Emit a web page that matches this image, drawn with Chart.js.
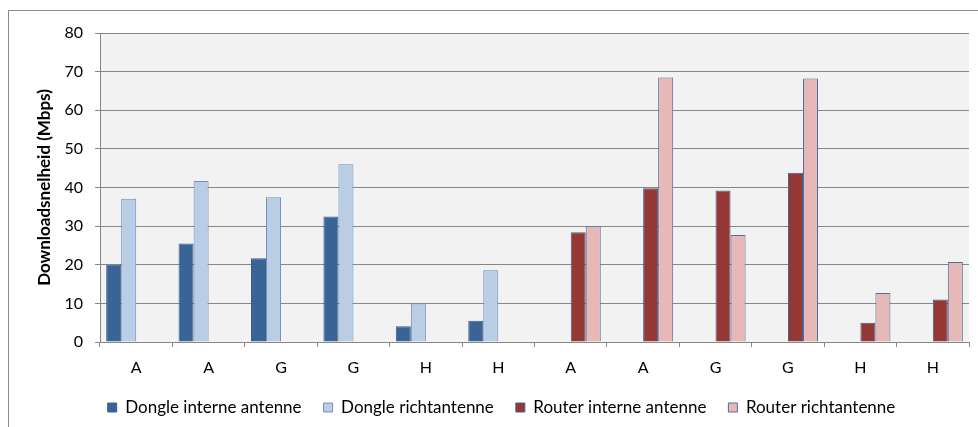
<!DOCTYPE html>
<html>
<head>
    <title>Downloadsnelheid</title>
    <script src="https://cdn.jsdelivr.net/npm/chart.js"></script>
    <style>
        html, body { margin: 0; padding: 0; background: #fff; overflow: hidden; }
        #wrap { width: 978px; height: 427px; }
    </style>
</head>
<body>
    <div id="wrap"><canvas id="speedChart" width="978" height="427"></canvas></div>
    <script>
    // categories (locations) along the x axis
    var labels = ['A', 'A', 'G', 'G', 'H', 'H', 'A', 'A', 'G', 'G', 'H', 'H'];

    // download speeds in Mbps
    var dongleIntern = [20.0, 25.5, 21.7, 32.5, 4.1, 5.5, null, null, null, null, null, null];
    var dongleRicht  = [37.1, 41.7, 37.5, 46.0, 10.0, 18.6, null, null, null, null, null, null];
    var routerIntern = [null, null, null, null, null, null, 28.4, 39.8, 39.2, 43.8, 5.0, 11.0];
    var routerRicht  = [null, null, null, null, null, null, 30.0, 68.5, 27.7, 68.2, 12.7, 20.7];

    var yTicks = [0, 10, 20, 30, 40, 50, 60, 70, 80];

    var fontFamily = 'Lato, "Open Sans", sans-serif';

    // outer chart frame like the spreadsheet chart box
    var framePlugin = {
        id: 'frame',
        beforeDraw: function (chart) {
            var ctx = chart.ctx;
            ctx.save();
            ctx.fillStyle = '#ffffff';
            ctx.fillRect(0, 0, chart.width, chart.height);
            ctx.strokeStyle = '#8c8c8c';
            ctx.lineWidth = 1;
            ctx.strokeRect(8.5, 10.5, 2000, 2000);
            // plot area fill
            var a = chart.chartArea;
            ctx.fillStyle = '#f2f2f2';
            ctx.fillRect(a.left, a.top, a.right - a.left, a.bottom - a.top);
            ctx.restore();
        }
    };

    var ctx = document.getElementById('speedChart').getContext('2d');
    var chart = new Chart(ctx, {
        type: 'bar',
        data: {
            labels: labels,
            datasets: [
                {
                    label: 'Dongle interne antenne',
                    data: dongleIntern,
                    backgroundColor: '#3a6496',
                    borderColor: '#3a6090',
                    borderWidth: 1
                },
                {
                    label: 'Dongle richtantenne',
                    data: dongleRicht,
                    backgroundColor: '#b9cde5',
                    borderColor: '#6f8fbb',
                    borderWidth: 1
                },
                {
                    label: 'Router interne antenne',
                    data: routerIntern,
                    backgroundColor: '#953735',
                    borderColor: '#40608e',
                    borderWidth: 1
                },
                {
                    label: 'Router richtantenne',
                    data: routerRicht,
                    backgroundColor: '#e6b9b8',
                    borderColor: '#4f6f9c',
                    borderWidth: 1
                }
            ]
        },
        options: {
            responsive: false,
            animation: false,
            categoryPercentage: 0.83,
            barPercentage: 1.0,
            layout: {
                padding: { left: 34, right: 9, top: 33, bottom: 1 }
            },
            scales: {
                x: {
                    offset: true,
                    grid: {
                        offset: true,
                        drawOnChartArea: false,
                        drawTicks: true,
                        tickLength: 5,
                        color: '#868686'
                    },
                    border: { color: '#868686' },
                    ticks: {
                        color: '#000',
                        padding: 11,
                        font: { family: fontFamily, size: 16 },
                        autoSkip: false,
                        maxRotation: 0
                    },
                    afterFit: function (scale) { scale.height = 35; }
                },
                y: {
                    min: 0,
                    max: 80,
                    afterBuildTicks: function (scale) {
                        scale.ticks = yTicks.map(function (v) { return { value: v }; });
                    },
                    grid: {
                        color: '#878787',
                        tickLength: 5
                    },
                    border: { color: '#868686' },
                    ticks: {
                        color: '#000',
                        padding: 12,
                        font: { family: fontFamily, size: 16 }
                    },
                    title: {
                        display: true,
                        text: 'Downloadsnelheid (Mbps)',
                        color: '#000',
                        padding: 0,
                        font: { family: fontFamily, size: 17, weight: 'bold' }
                    },
                    afterFit: function (scale) { scale.width = 66; }
                }
            },
            plugins: {
                legend: {
                    position: 'bottom',
                    labels: {
                        color: '#000',
                        boxWidth: 9,
                        boxHeight: 9,
                        padding: 22,
                        font: { family: fontFamily, size: 17 }
                    }
                },
                tooltip: { enabled: false }
            }
        },
        plugins: [framePlugin]
    });
    </script>
</body>
</html>
